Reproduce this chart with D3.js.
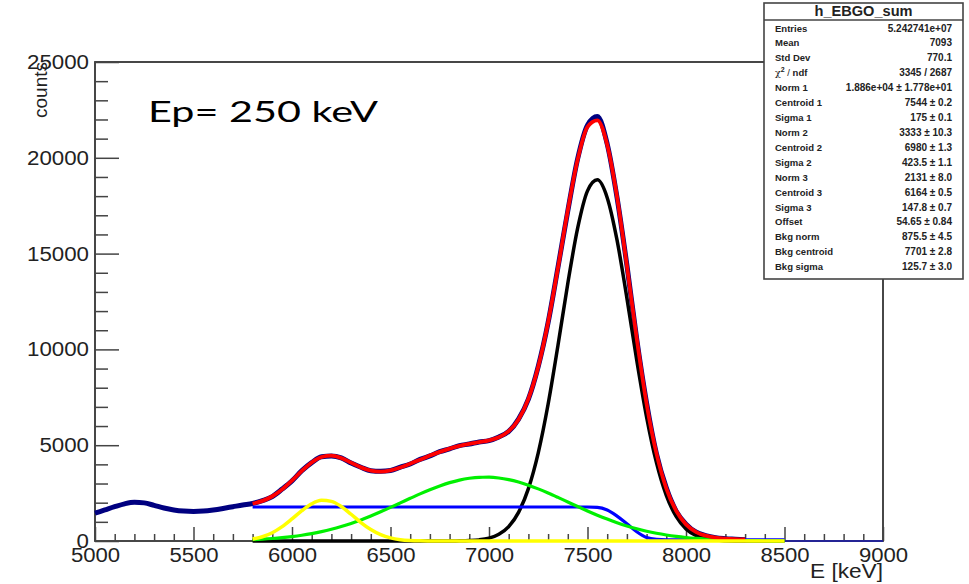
<!DOCTYPE html>
<html><head><meta charset="utf-8">
<script src="https://cdn.jsdelivr.net/npm/d3@7"></script>
<style>body{margin:0;background:#fff}</style>
</head><body><svg id="c" width="969" height="584"></svg>
<script>
// ---------- DATA ----------
const histStart = 5000, histStep = 50;
const dataCounts = [1450,1620,1790,1940,2020,1990,1860,1720,1620,1560,1540,1560,1620,1700,1790,1880,
  1960,2110,2320,2710,3140,3670,4090,4400,4440,4340,4070,3850,3670,3640,3680,3850,4020,4260,4440,4660,
  4810,4980,5060,5170,5240,5430,5720,6360,7400,9110,11400,14280,17230,19950,21700,22150,20720,17920,
  14400,10520,7190,4550,2770,1560,880,470,280,170,120,90,60,30,10,0,
  0,0,0,0,0,0,0,0,0,0,0];

const fitStart = 5800, fitStep = 50;
const fitTotal = [1947,2093,2336,2695,3155,3657,4100,4384,4455,4329,4089,3842,3676,3626,3690,3835,4030,
  4244,4457,4651,4823,4963,5071,5159,5254,5414,5731,6346,7420,9095,11415,14251,17257,19902,21617,21956,
  20681,17953,14362,10552,7160,4573,2752,1577,870,481,277,175,125,97,82];
const gaus1 = [0,0,0,0,0,0,0,0,0,0,0,0,0,0,0,0,0,0,0,0,
  3,8,22,59,150,351,754,1496,2733,4600,7135,10201,13444,16327,18273,18849,17919,15699,12676,9434,
  6469,4089,2382,1280,632,289,121,47,17,5,1,0,0,0,0];
const gaus2 = [69,95,129,173,229,299,385,488,611,755,918,1102,1305,1523,1754,1990,2228,2460,2679,2876,
  3045,3180,3274,3325,3329,3288,3202,3075,2912,2720,2505,2275,2038,1800,1569,1347,1142,954,786,638,
  511,404,315,242,183,137,101,73,53,37,26,18,12,8,5];
const gaus3 = [103,223,432,747,1151,1583,1940,2121,2069,1799,1396,965,596,328,161,70,27,9,3,
  0,0,0,0,0,0,0,0,0,0,0,0,0,0,0,0,0,0,0,0,0,0,0,0,0,0,0,0,0,0,0,0,0,0,0,0];
const bkg = [1775,1775,1775,1775,1775,1775,1775,1775,1775,1775,1775,1775,1775,1775,1775,1775,1775,1775,
  1775,1775,1775,1775,1775,1775,1775,1775,1775,1775,1775,1775,1775,1775,1775,1775,1775,
  1760,1620,1300,900,480,180,80,
  55,55,55,55,55,55,55,55,55,55,55,55,55];

const xTickValues = [5000,5500,6000,6500,7000,7500,8000,8500,9000];
const xTickLabels = ["5000","5500","6000","6500","7000","7500","8000","8500","9000"];
const yTickValues = [0,5000,10000,15000,20000,25000];
const yTickLabels = ["0","5000","10000","15000","20000","25000"];

const statsTitle = "h_EBGO_sum";
const statsLabels = ["Entries","Mean","Std Dev","CHI","Norm 1","Centroid 1","Sigma 1","Norm 2",
  "Centroid 2","Sigma 2","Norm 3","Centroid 3","Sigma 3","Offset","Bkg norm","Bkg centroid","Bkg sigma"];
const statsValues = ["5.242741e+07","7093","770.1","3345 / 2687","1.886e+04 \u00b1 1.778e+01",
  "7544 \u00b1 0.2","175 \u00b1 0.1","3333 \u00b1 10.3","6980 \u00b1 1.3","423.5 \u00b1 1.1",
  "2131 \u00b1 8.0","6164 \u00b1 0.5","147.8 \u00b1 0.7","54.65 \u00b1 0.84","875.5 \u00b1 4.5",
  "7701 \u00b1 2.8","125.7 \u00b1 3.0"];

// ---------- CHART ----------
const svg = d3.select("#c");
svg.append("rect").attr("width",969).attr("height",584).attr("fill","#fff");
const x = d3.scaleLinear().domain([5000,9000]).range([95,883]);
const y = d3.scaleLinear().domain([0,25000]).range([541,62]);
const FONT = "'Liberation Sans', Arial, Helvetica, sans-serif";

// frame
svg.append("rect").attr("x",95).attr("y",62).attr("width",788).attr("height",479)
  .attr("fill","none").attr("stroke","#333").attr("stroke-width",1.8);

const xMinor = d3.range(5000,9001,100).filter(v => v % 500 !== 0);
const yMinor = d3.range(0,25001,1000).filter(v => v % 5000 !== 0);

function styleAxis(g){
  g.select(".domain").remove();
  g.selectAll(".tick line").attr("stroke","#444").attr("stroke-width",1.5);
  g.selectAll("text").attr("font-family",FONT).attr("font-size",20).attr("fill","#222");
}
const gxm = svg.append("g").attr("transform","translate(0,541)")
  .call(d3.axisBottom(x).tickValues(xMinor).tickSize(-7).tickFormat(""));
styleAxis(gxm);
const gx = svg.append("g").attr("transform","translate(0,541)")
  .call(d3.axisBottom(x).tickValues(xTickValues).tickSize(-14).tickPadding(7)
    .tickFormat((d,i)=>xTickLabels[i]));
styleAxis(gx);
gx.selectAll("text").attr("textLength",function(){return this.textContent.length*12.3;})
  .attr("lengthAdjust","spacingAndGlyphs");

const gym = svg.append("g").attr("transform","translate(95,0)")
  .call(d3.axisLeft(y).tickValues(yMinor).tickSize(-13).tickFormat(""));
styleAxis(gym);
const gy = svg.append("g").attr("transform","translate(95,0)")
  .call(d3.axisLeft(y).tickValues(yTickValues).tickSize(-24).tickPadding(6)
    .tickFormat((d,i)=>yTickLabels[i]));
styleAxis(gy);
gy.selectAll("text").attr("textLength",function(){return this.textContent.length*12.4;})
  .attr("lengthAdjust","spacingAndGlyphs");

// axis titles
svg.append("text").attr("transform","translate(47,62) rotate(-90)").attr("text-anchor","end")
  .attr("font-family",FONT).attr("font-size",19).attr("fill","#222").text("counts");
svg.append("text").attr("x",883).attr("y",578).attr("text-anchor","end")
  .attr("font-family",FONT).attr("font-size",20).attr("fill","#222")
  .attr("textLength",73).attr("lengthAdjust","spacingAndGlyphs").text("E [keV]");

// curves
const histPts = dataCounts.map((v,i)=>[histStart+i*histStep, v]);
const fitPts = arr => arr.map((v,i)=>[fitStart+i*fitStep, v]);
const line = d3.line().x(d=>x(d[0])).y(d=>y(d[1])).curve(d3.curveMonotoneX);

svg.append("path").attr("d", line(histPts)).attr("fill","none")
  .attr("stroke","#1a1ab0").attr("stroke-width",1.3);
svg.append("path").attr("d", line.defined(d=>d[1]>=60)(histPts)).attr("fill","none")
  .attr("stroke","#000080").attr("stroke-width",5).attr("stroke-linejoin","round");
line.defined(()=>true);

function drawFit(arr,color,w){
  svg.append("path").attr("d", line(fitPts(arr))).attr("fill","none")
    .attr("stroke",color).attr("stroke-width",w).attr("stroke-linejoin","round");
}
drawFit(gaus1,"#000000",3.5);
drawFit(bkg,"#0000ff",3.2);
drawFit(gaus2,"#00f000",3.2);
drawFit(fitTotal,"#ff0000",3.8);
drawFit(gaus3,"#ffff00",3.5);

// annotation
svg.append("text").attr("x",148).attr("y",122)
  .attr("font-family","Lato, 'Open Sans', sans-serif").attr("font-size",29).attr("fill","#000")
  .attr("textLength",230).attr("lengthAdjust","spacingAndGlyphs").text("Ep= 250 keV");

// stats box
const sb = svg.append("g");
sb.append("rect").attr("x",764).attr("y",3).attr("width",199).attr("height",276)
  .attr("fill","#fff").attr("stroke","#444").attr("stroke-width",1.6);
sb.append("line").attr("x1",764).attr("x2",963).attr("y1",20).attr("y2",20)
  .attr("stroke","#444").attr("stroke-width",1.4);
sb.append("text").attr("x",863.5).attr("y",16).attr("text-anchor","middle")
  .attr("font-family",FONT).attr("font-weight","bold").attr("font-size",14).attr("fill","#222")
  .attr("textLength",98).attr("lengthAdjust","spacingAndGlyphs").text(statsTitle);
statsLabels.forEach((lab,i)=>{
  const yy = 28 + i*14.92 + 3.5;
  const t = sb.append("text").attr("x",775).attr("y",yy)
    .attr("font-family",FONT).attr("font-weight","bold").attr("font-size",9.5).attr("fill","#222");
  if (lab === "CHI") {
    t.append("tspan").attr("font-weight","normal").attr("font-family","'DejaVu Serif', serif").text("\u03c7");
    t.append("tspan").attr("font-size",7).attr("dy",-4).text("2");
    t.append("tspan").attr("dy",4).attr("font-weight","normal").text(" / ");
    t.append("tspan").text("ndf");
  } else t.text(lab);
  sb.append("text").attr("x",952).attr("y",yy).attr("text-anchor","end")
    .attr("font-family",FONT).attr("font-weight","bold").attr("font-size",10).attr("fill","#222")
    .text(statsValues[i]);
});
</script></body></html>
